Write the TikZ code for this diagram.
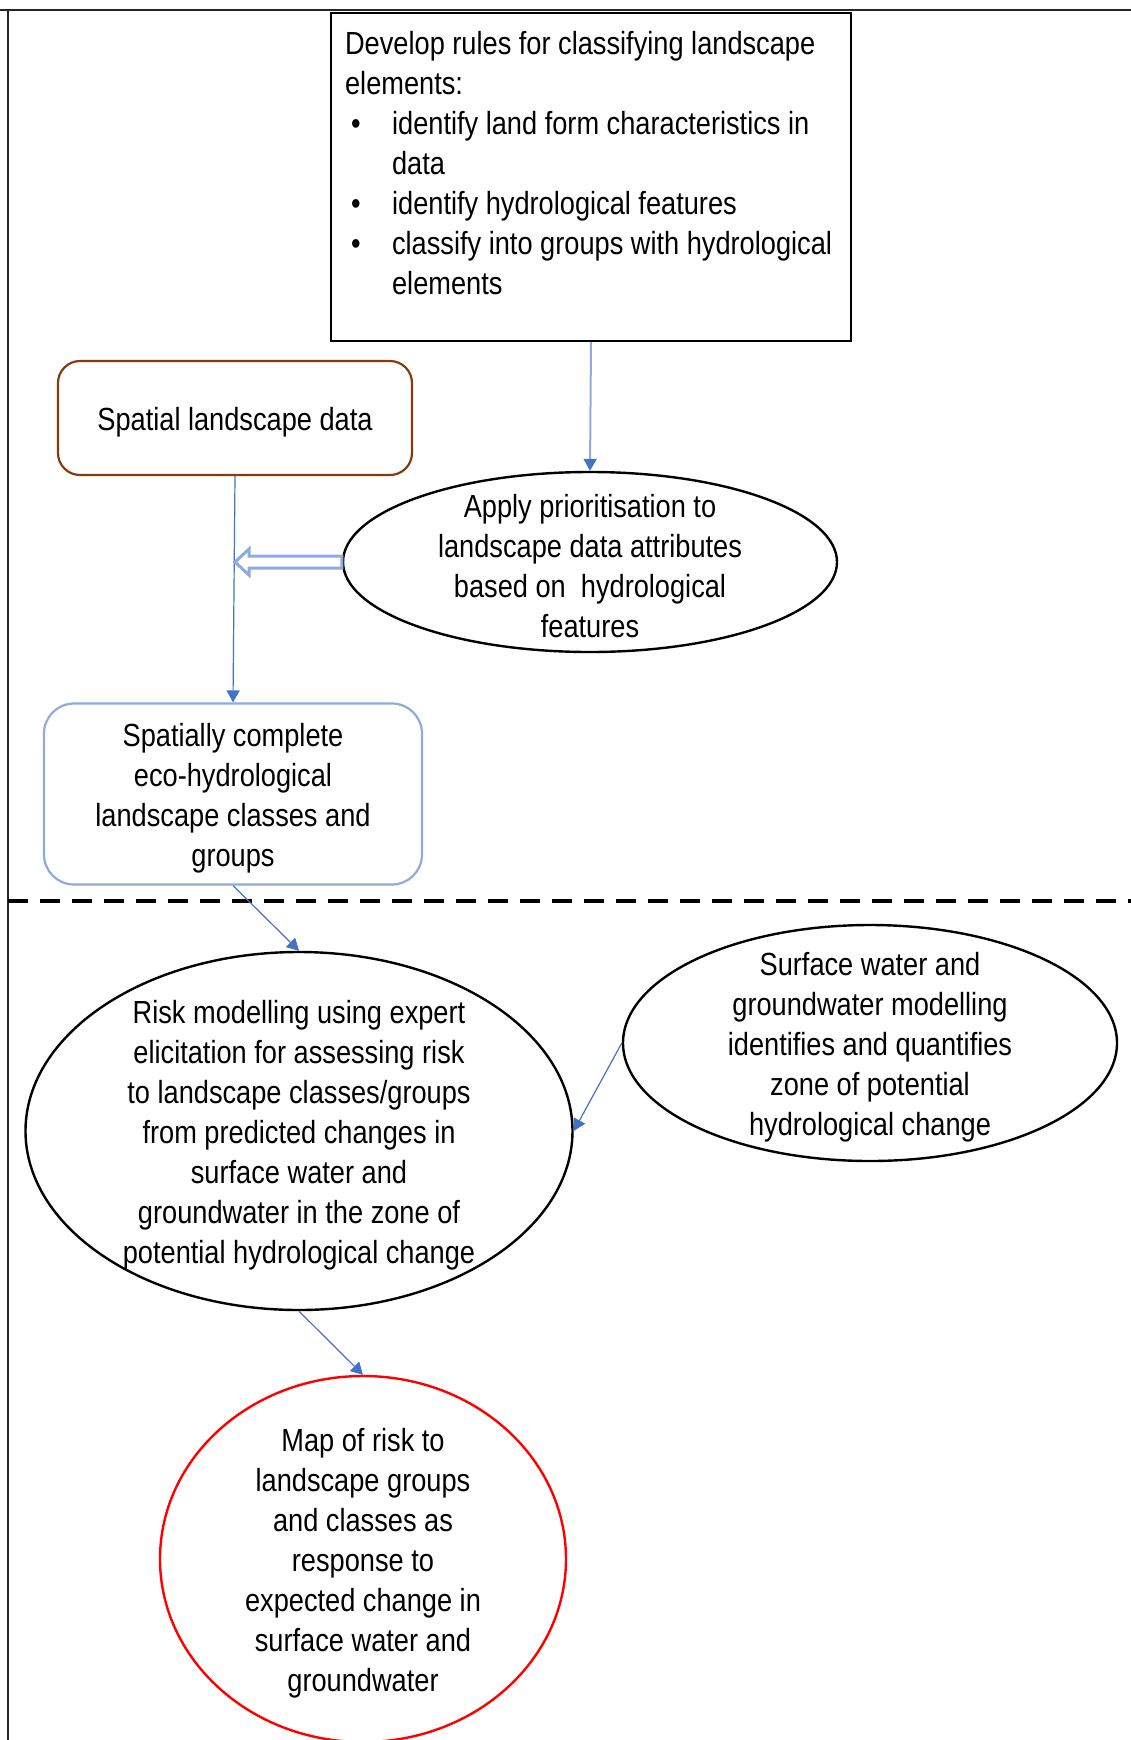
\documentclass[tikz,border=0pt]{standalone}
\usepackage{fontspec}
\setmainfont{Liberation Sans}[FakeStretch=0.85]
\usetikzlibrary{shapes.geometric,
	arrows.meta,
	calc,
	positioning}
\definecolor{lineblue}{RGB}{143,170,220}
\definecolor{tipblue}{RGB}{68,114,196}
\definecolor{brownedge}{RGB}{132,60,12}
\tikzset{
	flowtext/.style={font=\fontsize{32}{40}\selectfont, align=center, inner sep=0pt, yshift=-4pt},
	oval/.style={ellipse, draw=black, line width=2.4pt, inner sep=0pt},
	link/.style={draw=tipblue, line width=1.2pt, -{Triangle[length=12pt, width=13pt]}},
	hollow/.style={draw=lineblue, line width=3pt, fill=white, line join=miter},
}
\newcommand{\bul}{\makebox[47pt][l]{\hspace{6pt}\textbullet}}

\begin{document}
\begin{tikzpicture}[x=1pt, y=-1pt]
	\useasboundingbox (0, 0) rectangle (1131, 1740);
	% frame and divider
	\draw[line width=1.8pt, black!85] (0, 10) -- (1131, 10);
	\draw[line width=1.8pt, black!85] (8, 10) -- (8, 1740);
	\draw[line width=4pt, dash pattern=on 20pt off 12pt] (8, 901) -- (1131, 901);
	% upper part
	\node[draw, line width=2.2pt, minimum width=520pt, minimum height=328pt, inner sep=0pt] (rules) at (591, 177) {};
	\node[flowtext, align=left, anchor=north west, yshift=3pt] (rulesText) at ($(rules.north west)+(15, 18)$) {Develop rules for classifying landscape\\
		elements:\\
		\bul identify land form characteristics in\\
		\hspace*{47pt}data\\
		\bul identify hydrological features\\
		\bul classify into groups with hydrological\\
		\hspace*{47pt}elements};
	\node[draw=brownedge, line width=2.2pt, rounded corners=22pt, minimum width=354pt, minimum height=114pt] (spatial) at (235, 418) {};
	\node[flowtext] (spatialText) at (spatial.center) {Spatial landscape data};
	\node[oval, minimum width=494pt, minimum height=180pt] (apply) at (590, 562) {};
	\node[flowtext] (applyText) at (apply.center) {Apply prioritisation to\\landscape data attributes\\based on~ hydrological\\features};
	\node[draw=lineblue, line width=2.2pt, rounded corners=30pt, minimum width=378pt, minimum height=181pt] (complete) at (233, 794) {};
	\node[flowtext] (completeText) at (complete.center) {Spatially complete\\eco-hydrological\\landscape classes and\\groups};
	% lower part
	\node[oval, minimum width=547pt, minimum height=358pt] (risk) at (299, 1131) {};
	\node[flowtext] (riskText) at (risk.center) {Risk modelling using expert\\elicitation for assessing risk\\to landscape classes/groups\\from predicted changes in\\surface water and\\groundwater in the zone of\\potential hydrological change};
	\node[oval, minimum width=494pt, minimum height=236pt] (surface) at (870, 1043) {};
	\node[flowtext] (surfaceText) at (surface.center) {Surface water and\\groundwater modelling\\identifies and quantifies\\zone of potential\\hydrological change};
	\node[oval, draw=red, minimum width=406pt, minimum height=366pt] (map) at (363, 1559) {};
	\node[flowtext] (mapText) at (map.center) {Map of risk to\\landscape groups\\and classes as\\response to\\expected change in\\surface water and\\groundwater};
	% connectors
	\draw[link, draw=lineblue, line width=2pt, -{Triangle[length=12pt, width=13pt, color=tipblue]}] (rules.south) -- (apply.north);
	\draw[link] (spatial.south) -- (complete.north);
	\coordinate (merge) at (spatial.south |- apply.west);
	\draw[hollow] ($(apply.west)+(0, -6)$) -- ($(merge)+(14, -6)$) -- ($(merge)+(14, -13)$) -- (merge)
		-- ($(merge)+(14, 13)$) -- ($(merge)+(14, 6)$) -- ($(apply.west)+(0, 6)$) -- cycle;
	\draw[link] (complete.south) -- (risk.north);
	\draw[link] (surface.west) -- (risk.east);
	\draw[link] (risk.south) -- (map.north);
\end{tikzpicture}
\end{document}
